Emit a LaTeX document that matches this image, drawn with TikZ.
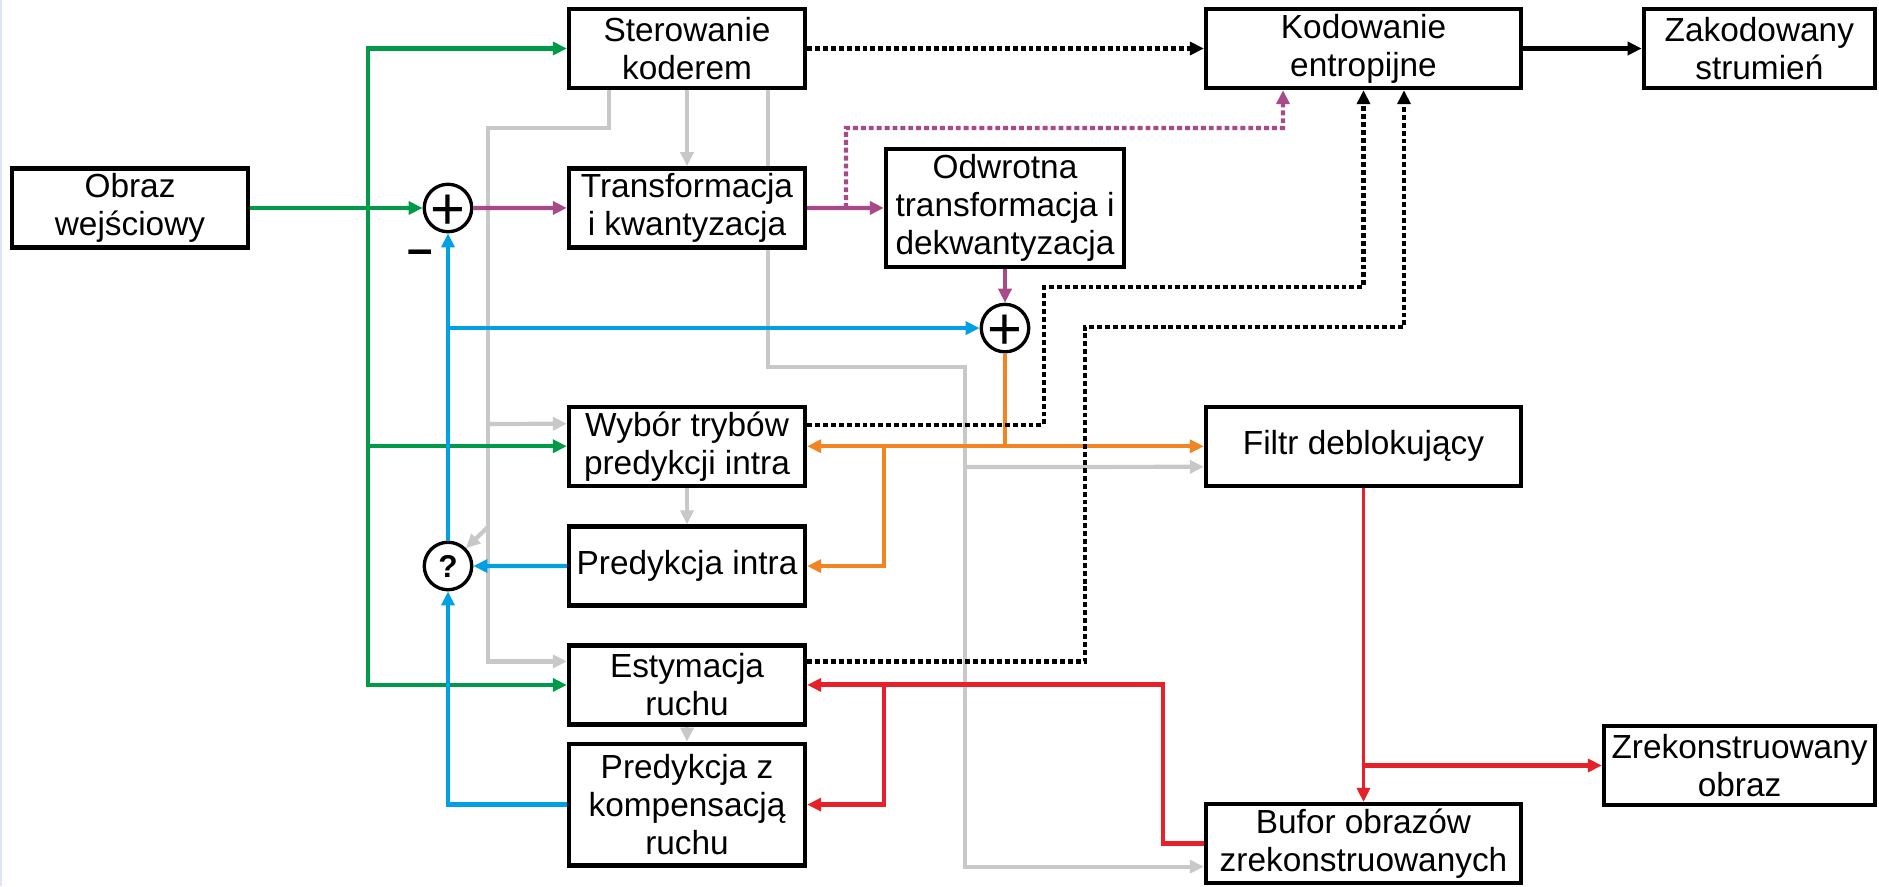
\documentclass[tikz,border=0pt]{standalone}
\usepackage{fontspec}
\setmainfont{Liberation Sans}
\usepackage{tikz}
\usetikzlibrary{positioning,arrows.meta,backgrounds}

\definecolor{zielony}{RGB}{0,155,72}
\definecolor{fiolet}{RGB}{168,73,138}
\definecolor{niebieski}{RGB}{0,160,226}
\definecolor{pomarancz}{RGB}{242,133,34}
\definecolor{czerwony}{RGB}{230,33,41}
\definecolor{szary}{RGB}{200,200,200}
\definecolor{ramka}{RGB}{218,230,246}

\newcommand{\wsrodku}[1]{\raisebox{-0.36em}[0pt][0pt]{\makebox[0pt]{#1}}}

\begin{document}
\begin{tikzpicture}[%
    x=0.02cm,
    y=-0.02cm,
    >={Triangle[length=0.28cm,width=0.26cm]},
    font=\fontsize{19}{21.6}\selectfont,
    blok/.style={%
      rectangle,
      draw,
      line width=2.5pt,
      fill=white,
      align=center,
      inner sep=0pt,
      minimum width=4.72cm,
      minimum height=1.58cm
    },
    sumator/.style={%
      circle,
      draw,
      line width=1.9pt,
      fill=white,
      inner sep=0pt,
      minimum size=0.95cm
    },
    linia/.style={->, line width=2.4pt},
    kropki/.style={->, line width=2.4pt, dash pattern=on 2.8pt off 1.7pt}
  ]
    \useasboundingbox (0,0) rectangle (1879,886);
    \draw[ramka, line width=1.1pt] (1,0) -- (1,886);

    \node[blok] (ctrl) at (687,48.5)                       {Sterowanie\\koderem};
    \node[blok] (transf) [below=1.52cm of ctrl]            {Transformacja\\i kwantyzacja};
    \node[blok] (wybor) [below=3.10cm of transf]           {Wybór trybów\\predykcji intra};
    \node[blok] (pintra) [below=0.73cm of wybor]           {Predykcja intra};
    \node[blok] (estym) [below=0.71cm of pintra]           {Estymacja\\ruchu};
    \node[blok, minimum height=2.43cm] (pkomp) [below=0.30cm of estym] {Predykcja z\\kompensacją\\ruchu};
    \node[blok] (obraz) at (130,208)                       {Obraz\\wejściowy};
    \node[blok, minimum width=4.76cm, minimum height=2.36cm] (odwr) at (1005,208) {Odwrotna\\transformacja i\\dekwantyzacja};
    \node[blok, minimum width=6.3cm] (entropia) at (1363.5,48.5) {Kodowanie\\entropijne};
    \node[blok, minimum width=4.62cm] (zakod) [right=2.37cm of entropia] {Zakodowany\\strumień};
    \node[blok, minimum width=6.3cm] (filtr) [below=6.29cm of entropia] {Filtr deblokujący};
    \node[blok, minimum width=6.3cm] (bufor) [below=6.28cm of filtr] {Bufor obrazów\\zrekonstruowanych};
    \node[blok, minimum width=5.42cm] (zrek) at (1739.5,765.5) {Zrekonstruowany\\obraz};

    \node[sumator, font=\fontsize{34}{34}\selectfont] (plus1) at (448,208) {\wsrodku{+}};
    \node[sumator, font=\fontsize{34}{34}\selectfont] (plus2) [below=0.67cm of odwr] {\wsrodku{+}};
    \node[sumator, font=\fontsize{18}{18}\selectfont\bfseries] (pyt) at (448,566) {\wsrodku{?}};
    \node[anchor=base, inner sep=0pt, font=\fontsize{26}{26}\selectfont\bfseries] (minus) at (420,264) {–};

    \begin{scope}[on background layer]
      \draw[linia, szary] ([xshift=-1.56cm]ctrl.south) |- (488,128) |- ([yshift=0.47cm]estym.west);
      \draw[linia, szary] (488,424) -- ([yshift=0.45cm]wybor.west);
      \draw[linia, szary] (488,527) -- (pyt.north east);
      \draw[linia, szary] (ctrl) -- (transf);
      \draw[linia, szary] ([xshift=1.62cm]ctrl.south) |- (965,367) |- ([yshift=-0.46cm]bufor.west);
      \draw[linia, szary] (965,467) -- ([yshift=-0.41cm]filtr.west);
      \draw[linia, szary] (wybor) -- (pintra);
      \draw[linia, szary] (estym) -- (pkomp);
    \end{scope}

    \coordinate (rozgal) at (368,208);
    \coordinate (zwrot) at (1163,0);
    \draw[linia, zielony] (obraz) -- (plus1);
    \draw[linia, zielony] (rozgal) |- (ctrl);
    \draw[linia, zielony] (rozgal) |- (wybor);
    \draw[linia, zielony] (rozgal) |- (estym);

    \draw[linia, fiolet] (plus1) -- (transf);
    \draw[linia, fiolet] (transf) -- (odwr);
    \draw[kropki, fiolet] (846,208) |- (1283,128) -- ([xshift=-1.61cm]entropia.south);
    \draw[linia, fiolet] (odwr) -- (plus2);

    \draw[linia, niebieski] (pyt) -- (plus1);
    \draw[linia, niebieski] (pyt |- plus2) -- (plus2);
    \draw[linia, niebieski] (pintra) -- (pyt);
    \draw[linia, niebieski] (pkomp) -| (pyt);

    \draw[linia, pomarancz] (plus2) |- (filtr);
    \draw[linia, pomarancz] (plus2) |- (wybor);
    \draw[linia, pomarancz] (odwr.west |- wybor) |- (pintra);

    \draw[linia, czerwony, line width=1.8pt] (filtr) -- (bufor);
    \draw[linia, czerwony, line width=2.8pt] (filtr |- zrek) -- (zrek);
    \draw[linia, czerwony, line width=2.8pt] (bufor) -| (zwrot |- estym) -- (estym);
    \draw[linia, czerwony] (odwr.west |- estym) |- (pkomp);

    \draw[linia, line width=3.3pt] (entropia) -- (zakod);
    \draw[kropki] (ctrl) -- (entropia);
    \draw[kropki] ([yshift=0.43cm]wybor.east) -| (1044,287) -| (entropia.south);
    \draw[kropki] ([yshift=0.47cm]estym.east) -| (1085,327) -| ([xshift=0.81cm]entropia.south);
\end{tikzpicture}
\end{document}
